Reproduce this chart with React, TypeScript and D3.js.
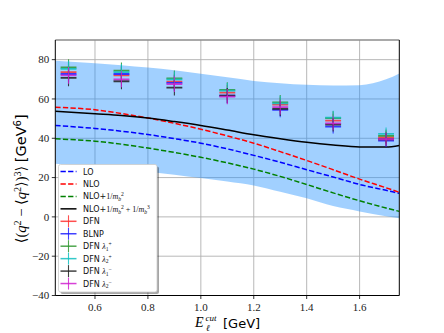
import React from "react";
import * as d3 from "d3";

// curves sampled along E_cut
const curveX = [0.45, 0.6, 0.7, 0.8, 0.9, 1.0, 1.1, 1.2, 1.3, 1.4, 1.5, 1.6, 1.7, 1.75];
const loVals = [46.5, 45.0, 43.6, 41.9, 39.8, 37.5, 34.6, 31.3, 27.8, 24.0, 20.3, 16.5, 13.5, 12.0];
const nloVals = [55.8, 54.5, 52.6, 50.3, 47.6, 44.6, 41.2, 37.5, 33.2, 28.7, 24.0, 19.2, 14.8, 12.5];
const nloMb2Vals = [39.7, 38.5, 37.0, 35.0, 32.8, 30.3, 27.5, 24.3, 20.6, 16.5, 12.2, 8.2, 4.5, 2.8];
const nloMb3Vals = [53.8, 52.5, 51.6, 50.3, 48.5, 46.5, 44.2, 41.8, 39.8, 38.0, 36.6, 35.6, 35.5, 36.3];
const bandHi = [79.5, 78.2, 77.2, 76.0, 74.6, 72.8, 71.0, 69.2, 68.0, 67.2, 66.8, 67.0, 70.0, 73.0];
const bandLo = [27.0, 25.5, 24.3, 23.0, 21.5, 19.8, 18.0, 16.0, 12.8, 9.5, 5.5, 2.8, 0.3, -0.7];

// error-bar points
const ptX = [0.5, 0.7, 0.9, 1.1, 1.3, 1.5, 1.7];
const dfnVals = [73.7, 72.0, 68.8, 63.2, 57.1, 49.0, 40.5];
const blnpVals = [72.7, 72.7, 68.2, 61.7, 54.4, 45.9, 38.8];
const l1pVals = [76.0, 74.4, 70.5, 64.6, 58.3, 50.2, 41.2];
const l2pVals = [75.3, 73.7, 70.0, 64.2, 57.8, 50.5, 42.2];
const l1mVals = [70.7, 69.0, 65.8, 61.7, 55.0, 47.0, 39.5];
const l2mVals = [72.0, 70.0, 67.5, 61.2, 55.8, 47.6, 39.5];
const errVals = [4.2, 4.1, 4.0, 3.9, 3.7, 3.5, 3.3];

const xTicks = [0.6, 0.8, 1.0, 1.2, 1.4, 1.6];
const yTicks = [-40, -20, 0, 20, 40, 60, 80];

const W = 444, H = 333;
const L = 55.3, R = 399.3, T = 40, B = 295.5;

const SERIF = "'Liberation Serif', 'DejaVu Serif', serif";
const SANS = "'DejaVu Sans', sans-serif";

type Seg = { t: string; f?: "it" | "rm" | "sans"; s?: "sup" | "sub" };

function rich(segs: Seg[], size: number) {
  let cur = 0;
  return segs.map((sg, i) => {
    const want = sg.s === "sup" ? -0.38 * size : sg.s === "sub" ? 0.22 * size : 0;
    const dy = want - cur;
    cur = want;
    const fam = sg.f === "sans" ? SANS : SERIF;
    return (
      <tspan
        key={i}
        dy={dy}
        fontFamily={fam}
        fontStyle={sg.f === "it" ? "italic" : "normal"}
        fontSize={sg.s ? size * 0.7 : size}
      >
        {sg.t}
      </tspan>
    );
  });
}

const series = [
  { name: "DFN", vals: dfnVals, color: "#ff3030" },
  { name: "BLNP", vals: blnpVals, color: "#2020ff" },
  { name: "l1p", vals: l1pVals, color: "#2e962e" },
  { name: "l2p", vals: l2pVals, color: "#10c0c0" },
  { name: "l1m", vals: l1mVals, color: "#202020" },
  { name: "l2m", vals: l2mVals, color: "#d020d0" },
];

const lines = [
  { vals: loVals, color: "#0000ff", dash: "5.3,2.3" },
  { vals: nloVals, color: "#ff0000", dash: "5.3,2.3" },
  { vals: nloMb2Vals, color: "#008000", dash: "5.3,2.3" },
  { vals: nloMb3Vals, color: "#000000", dash: "" },
];

const legendItems: { kind: "line" | "err"; color: string; dash?: string; label: Seg[] }[] = [
  { kind: "line", color: "#0000ff", dash: "5.3,2.3", label: [{ t: "LO", f: "sans" }] },
  { kind: "line", color: "#ff0000", dash: "5.3,2.3", label: [{ t: "NLO", f: "sans" }] },
  {
    kind: "line", color: "#008000", dash: "5.3,2.3",
    label: [{ t: "NLO+", f: "sans" }, { t: "1/" }, { t: "m", f: "it" }, { t: "b", f: "it", s: "sub" }, { t: "2", s: "sup" }],
  },
  {
    kind: "line", color: "#000000", dash: "",
    label: [
      { t: "NLO+", f: "sans" }, { t: "1/" }, { t: "m", f: "it" }, { t: "b", f: "it", s: "sub" }, { t: "2", s: "sup" },
      { t: " + 1/" }, { t: "m", f: "it" }, { t: "b", f: "it", s: "sub" }, { t: "3", s: "sup" },
    ],
  },
  { kind: "err", color: "#ff3030", label: [{ t: "DFN", f: "sans" }] },
  { kind: "err", color: "#2020ff", label: [{ t: "BLNP", f: "sans" }] },
  { kind: "err", color: "#2e962e", label: [{ t: "DFN ", f: "sans" }, { t: "λ", f: "it" }, { t: "1", s: "sub" }, { t: "+", s: "sup" }] },
  { kind: "err", color: "#10c0c0", label: [{ t: "DFN ", f: "sans" }, { t: "λ", f: "it" }, { t: "2", s: "sub" }, { t: "+", s: "sup" }] },
  { kind: "err", color: "#202020", label: [{ t: "DFN ", f: "sans" }, { t: "λ", f: "it" }, { t: "1", s: "sub" }, { t: "−", s: "sup" }] },
  { kind: "err", color: "#d020d0", label: [{ t: "DFN ", f: "sans" }, { t: "λ", f: "it" }, { t: "2", s: "sub" }, { t: "−", s: "sup" }] },
];

export default function App() {
  const x = d3.scaleLinear().domain([0.45, 1.75]).range([L, R]);
  const y = d3.scaleLinear().domain([-40, 90]).range([B, T]);

  const area = d3
    .area<number>()
    .x((_, i) => x(curveX[i]))
    .y0((_, i) => y(bandLo[i]))
    .y1((d) => y(d))
    .curve(d3.curveMonotoneX);

  const line = (vals: number[]) =>
    d3
      .line<number>()
      .x((_, i) => x(curveX[i]))
      .y((d) => y(d))
      .curve(d3.curveMonotoneX)(vals) || "";

  const lgX = 58.5, lgY = 164.5, lgW = 98.5, lgH = 127.5;
  const rowY0 = 171.5, rowDy = 12.45;

  return (
    <svg width={W} height={H} style={{ position: "absolute", left: 0, top: 0, background: "#fff" }}>
      <defs>
        <clipPath id="plot">
          <rect x={L} y={T} width={R - L} height={B - T} />
        </clipPath>
      </defs>

      {/* grid */}
      {xTicks.map((t) => (
        <line key={"gx" + t} x1={x(t)} x2={x(t)} y1={T} y2={B} stroke="#b0b0b0" strokeWidth={0.9} />
      ))}
      {yTicks.map((t) => (
        <line key={"gy" + t} x1={L} x2={R} y1={y(t)} y2={y(t)} stroke="#b0b0b0" strokeWidth={0.9} />
      ))}

      <g clipPath="url(#plot)">
        <path d={area(bandHi) || ""} fill="#1e90ff" fillOpacity={0.42} />
        {lines.map((ln, i) => (
          <path key={i} d={line(ln.vals)} fill="none" stroke={ln.color} strokeWidth={1.5} strokeDasharray={ln.dash} />
        ))}

        {series.map((s) =>
          s.vals.map((v, i) => (
            <g key={s.name + i} stroke={s.color} strokeOpacity={0.85}>
              <line x1={x(ptX[i] - 0.03)} x2={x(ptX[i] + 0.03)} y1={y(v)} y2={y(v)} strokeWidth={1.8} />
              <line x1={x(ptX[i])} x2={x(ptX[i])} y1={y(v - errVals[i])} y2={y(v + errVals[i])} strokeWidth={1.1} />
            </g>
          ))
        )}
      </g>

      {/* spines */}
      <line x1={L} x2={R} y1={T} y2={T} stroke="#8c8c8c" strokeWidth={1.6} />
      <line x1={L} x2={L} y1={T} y2={B} stroke="#000" strokeWidth={1} />
      <line x1={R} x2={R} y1={T} y2={B} stroke="#000" strokeWidth={1} />
      <line x1={L} x2={R} y1={B} y2={B} stroke="#000" strokeWidth={1} />

      {/* ticks */}
      {xTicks.map((t) => (
        <g key={"tx" + t}>
          <line x1={x(t)} x2={x(t)} y1={B} y2={B + 3.5} stroke="#000" strokeWidth={0.8} />
          <text x={x(t)} y={B + 15} textAnchor="middle" fontFamily={SERIF} fontSize={11} fill="#222">
            {d3.format(".1f")(t)}
          </text>
        </g>
      ))}
      {yTicks.map((t) => (
        <g key={"ty" + t}>
          <line x1={L - 3.5} x2={L} y1={y(t)} y2={y(t)} stroke="#000" strokeWidth={0.8} />
          <text x={L - 6} y={y(t) + 3.8} textAnchor="end" fontFamily={SERIF} fontSize={11} fill="#222">
            {t < 0 ? "−" + Math.abs(t) : t}
          </text>
        </g>
      ))}

      {/* legend */}
      <rect x={lgX + 2} y={lgY + 2} width={lgW} height={lgH} rx={2} fill="#000" fillOpacity={0.35} />
      <rect x={lgX} y={lgY} width={lgW} height={lgH} rx={2} fill="#fff" stroke="#cccccc" strokeWidth={0.8} />
      {legendItems.map((it, i) => {
        const ry = rowY0 + i * rowDy;
        return (
          <g key={"lg" + i}>
            {it.kind === "line" ? (
              <line x1={60.5} x2={76.5} y1={ry} y2={ry} stroke={it.color} strokeWidth={1.5} strokeDasharray={it.dash} />
            ) : (
              <g stroke={it.color} strokeOpacity={0.85}>
                <line x1={60.5} x2={76.5} y1={ry} y2={ry} strokeWidth={1.5} />
                <line x1={68.5} x2={68.5} y1={ry - 6} y2={ry + 6} strokeWidth={1.1} />
              </g>
            )}
            <text x={83} y={ry + 3} fontSize={8} fill="#111">
              {rich(it.label, 8)}
            </text>
          </g>
        );
      })}

      {/* x label */}
      <text x={195} y={327} fontFamily={SERIF} fontStyle="italic" fontSize={14}>E</text>
      <text x={205.5} y={320.5} fontFamily={SERIF} fontStyle="italic" fontSize={9}>cut</text>
      <text x={206} y={331} fontFamily={SERIF} fontStyle="italic" fontSize={9}>ℓ</text>
      <text x={223} y={328} fontFamily={SANS} fontSize={13}>[GeV]</text>

      {/* y label */}
      <text transform={`translate(26, ${(T + B) / 2 + 11}) rotate(-90)`} textAnchor="middle" fill="#000">
        {rich(
          [
            { t: "⟨(" }, { t: "q", f: "it" }, { t: "2", s: "sup" }, { t: " − ⟨" }, { t: "q", f: "it" },
            { t: "2", s: "sup" }, { t: "⟩)" }, { t: "3", s: "sup" }, { t: "⟩ " }, { t: "[GeV", f: "sans" },
            { t: "6", f: "sans", s: "sup" }, { t: "]", f: "sans" },
          ],
          14.5
        )}
      </text>
    </svg>
  );
}
